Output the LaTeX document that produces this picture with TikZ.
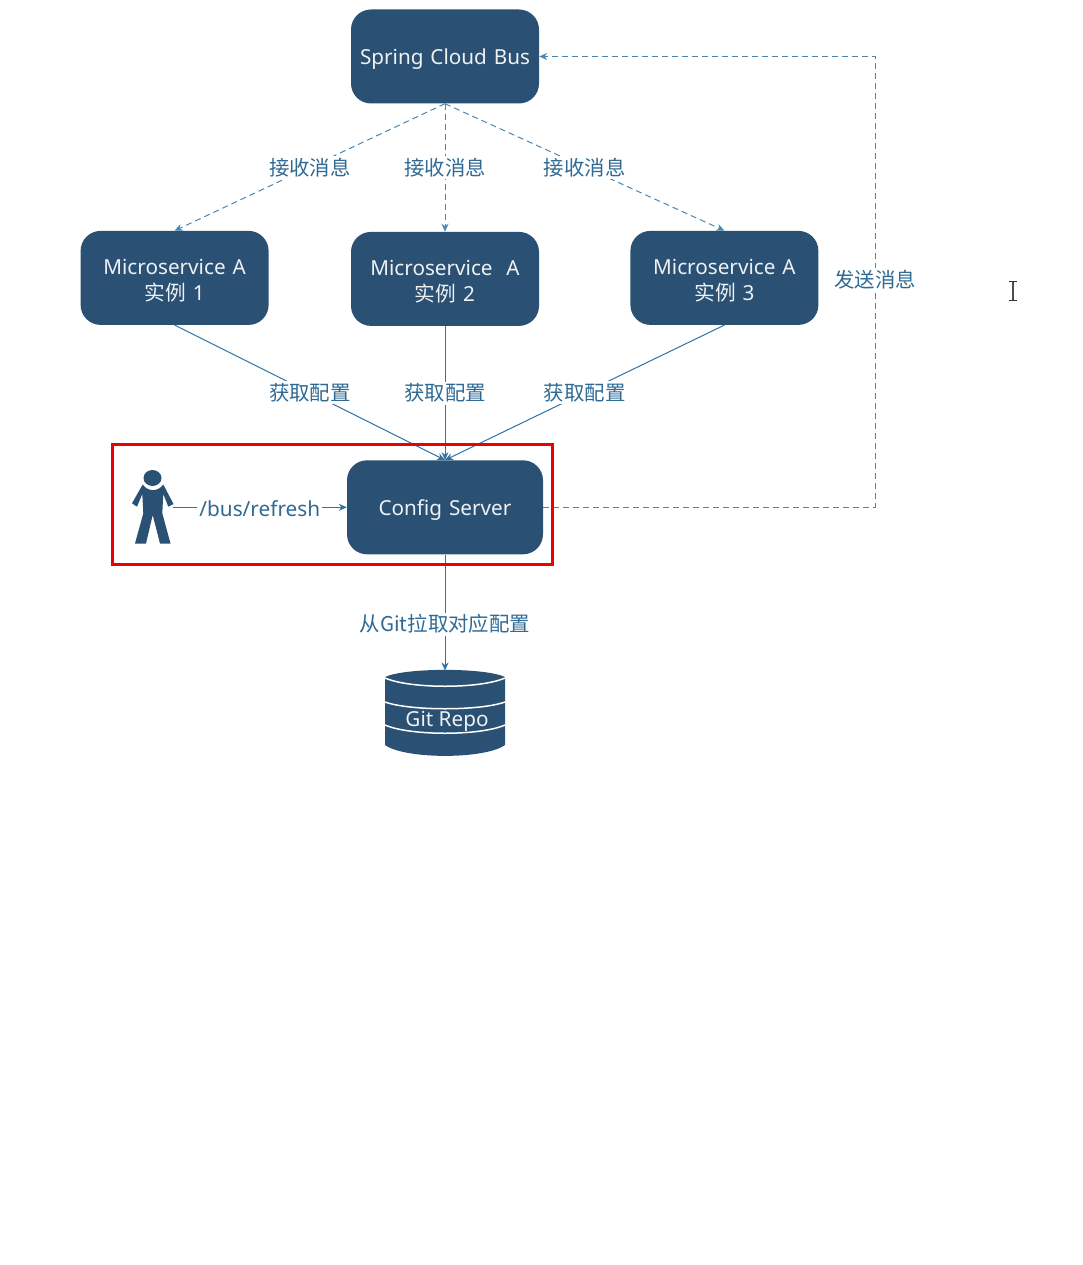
\documentclass[tikz,border=0pt]{standalone}
\usepackage{fontspec}
\setmainfont{Noto Sans}
\newfontfamily\cjk{Noto Sans CJK SC}
\usetikzlibrary{
	positioning,
	arrows.meta
}
\definecolor{boxblue}{HTML}{2A5073}
\definecolor{lineblue}{HTML}{2F72A3}
\definecolor{dashblue}{HTML}{4A86B0}
\definecolor{textblue}{HTML}{2F6A95}

\begin{document}
\begin{tikzpicture}[
	x=1pt, y=-1pt,
	>={Stealth[length=8pt,width=7pt]},
	service/.style = {
		rectangle,
		rounded corners=20pt,
		fill=boxblue,
		text=white!92!boxblue,
		text width=184pt, align=center,
		minimum width=188pt,
		minimum height=94pt,
		inner sep=0pt,
		execute at begin node={\lineskiplimit=-8pt},
		execute at end node={\vspace*{-5pt}},
		font=\fontsize{20.7}{26}\selectfont
	},
	link/.style = {line width=1pt, lineblue, ->},
	dashlink/.style = {link, dashblue, dash pattern=on 6pt off 4pt},
	caption/.style = {
		fill=white,
		text=textblue,
		inner sep=2pt,
		font=\fontsize{20.4}{24}\selectfont\cjk
	},
]
	\useasboundingbox (0,0) rectangle (1083,1265);

	\node (bus) [service] at (445,56.5) {Spring Cloud Bus};

	\node (ms2) [service, below=128pt of bus] {Microservice\ \ A\\{\cjk 实例} 2};
	\node (ms1) [service, left=82pt of ms2, yshift=1pt] {Microservice A\\{\cjk 实例} 1};
	\node (ms3) [service, right=91pt of ms2, yshift=1pt] {Microservice A\\{\cjk 实例} 3};

	\node (config) [service, minimum width=196pt, below=134pt of ms2] {Config Server};

	\node (person) [left=174pt of config, minimum width=40pt, minimum height=74pt, inner sep=0pt] {};
	\fill[boxblue] (152.5,478) ellipse (9pt and 8pt);
	\fill[boxblue] (142.7,484.5) -- (132,503.3) -- (137,506.7) -- (142.3,494)
		-- (143.3,513.3) -- (135,543.5) -- (146,543.5) -- (152.7,515)
		-- (160,543.5) -- (170.5,543.5) -- (162.3,513.3) -- (163.3,494)
		-- (168.3,506.7) -- (173.5,504) -- (163.3,484.5)
		.. controls (158,492) and (148,492) .. cycle;

	\node (repo) [minimum width=120pt, minimum height=86pt, inner sep=0pt, below=116pt of config] {};
	\fill[boxblue] (385,677) .. controls (405,667.5) and (485,667.5) .. (505,677)
		-- (505,745) .. controls (485,759.5) and (405,759.5) .. (385,745) -- cycle;
	\draw[white, line width=1.5pt] (385,678) .. controls (410,689) and (480,689) .. (505,678);
	\draw[white, line width=1.5pt] (385,702) .. controls (410,711) and (480,711) .. (505,702);
	\draw[white, line width=1.5pt] (385,725) .. controls (410,736) and (480,736) .. (505,725);
	\node (repotext) [text=white!92!boxblue, font=\fontsize{20.7}{24}\selectfont] at (447,721) {Git Repo};

	\draw[dashlink] (bus.south) -- node[caption] {\cjk 接收消息} (ms1.north);
	\draw[dashlink] (bus.south) -- node[caption] {\cjk 接收消息} (ms2.north);
	\draw[dashlink] (bus.south) -- node[caption] {\cjk 接收消息} (ms3.north);

	\draw[link] (ms1.south) -- node[caption] {\cjk 获取配置} (config.north);
	\draw[link] (ms2.south) -- node[caption] {\cjk 获取配置} (config.north);
	\draw[link] (ms3.south) -- node[caption] {\cjk 获取配置} (config.north);

	\draw[link] (person.east) -- node[caption, font=\fontsize{20.8}{24}\selectfont, yshift=-1pt] {/bus/refresh} (config.west);
	\draw[link] (config.south) -- node[caption, pos=0.6] {从Git拉取对应配置} (repo.north);

	\draw[dashlink] (config.east) -- ++(332,0) |- node[caption, pos=0.25, yshift=2pt] {发送消息} (bus.east);

	% selection frame
	\node (frame) [draw={rgb,255:red,238;green,0;blue,0}, line width=3pt, minimum width=440.5pt, minimum height=120.5pt, inner sep=0pt] at (332.25,504.25) {};

	% text cursor
	\draw[black!70, line width=1.2pt] (1013,282) -- (1013,300);
	\draw[black!80, line width=1pt] (1009,281.5) -- (1017,281.5) (1009,300.5) -- (1017,300.5);
\end{tikzpicture}
\end{document}
